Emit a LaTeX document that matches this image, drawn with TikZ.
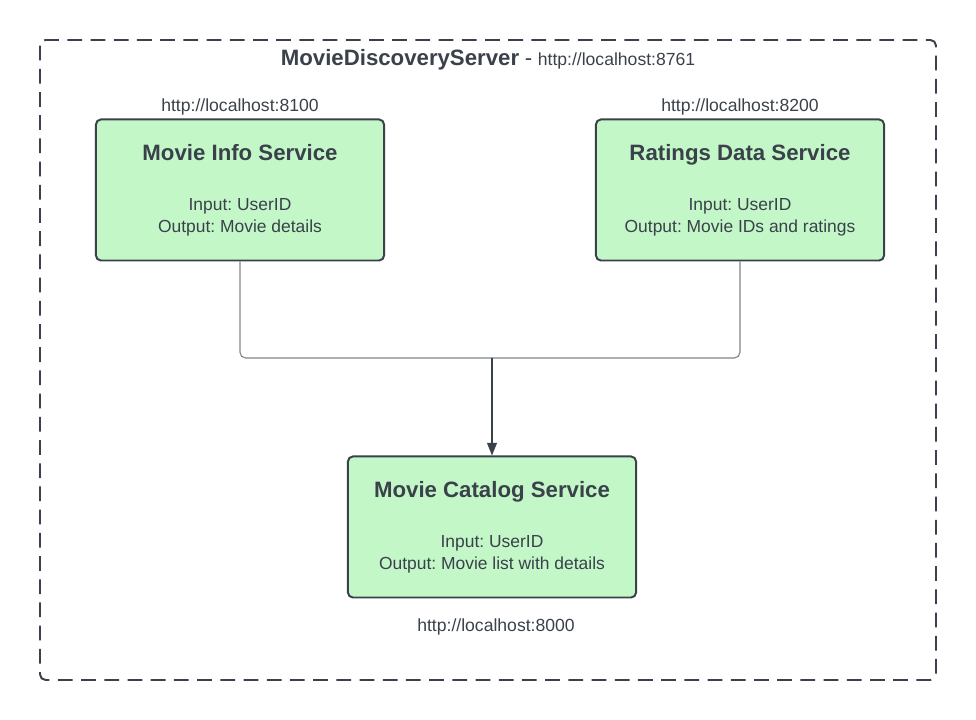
\documentclass[tikz,border=0pt]{standalone}
\usepackage{fontspec}
\setmainfont{Liberation Sans}
\usetikzlibrary{arrows.meta}
\definecolor{ink}{HTML}{3A414A}
\definecolor{boxgreen}{HTML}{C3F7C8}
\definecolor{wire}{HTML}{80858D}
\frenchspacing
\newcommand{\svcname}[1]{{\fontsize{15.8}{18}\selectfont\bfseries #1}}
\tikzset{
    service/.style={draw=ink, fill=boxgreen, line width=1.4pt, rounded corners=3.5pt,
        minimum width=7.2cm, minimum height=3.525cm, align=center, text=ink,
        font=\fontsize{12.4}{15.6}\selectfont},
    url/.style={text=ink, font=\fontsize{12.5}{14}\selectfont},
    wire/.style={draw=wire, line width=0.8pt, rounded corners=4pt}
}
\begin{document}
\begin{tikzpicture}[x=0.025cm, y=-0.025cm]
    \useasboundingbox (0,0) rectangle (976,720);

    \draw[ink, line width=1.4pt, dash pattern=on 10.5pt off 6pt, rounded corners=4pt]
        (40,40) rectangle (936,680);

    \node[text=ink] (server) at (488,60) {\svcname{MovieDiscoveryServer}\hspace{4pt}{\fontsize{15.8}{18}\selectfont -}\hspace{4pt}{\fontsize{12.5}{14}\selectfont http://localhost:8761}};

    \node[service] (info) at (240,190) {\svcname{Movie Info Service}\\[20pt]Input: UserID\\Output: Movie details};
    \node[service] (ratings) at (740,190) {\svcname{Ratings Data Service}\\[20pt]Input: UserID\\Output: Movie IDs and ratings};
    \node[service] (catalog) at (492,527) {\svcname{Movie Catalog Service}\\[20pt]Input: UserID\\Output: Movie list with details};

    \node[url] (infourl) at (240,107) {http://localhost:8100};
    \node[url] (ratingsurl) at (740,107) {http://localhost:8200};
    \node[url] (catalogurl) at (496,627) {http://localhost:8000};

    \coordinate (merge) at (492,358);
    \draw[wire] (info.south) |- (merge);
    \draw[wire] (ratings.south) |- (merge);
    \draw[draw=ink, line width=1pt, -{Triangle[length=9pt, width=7pt]}] (merge) -- (catalog.north);
\end{tikzpicture}
\end{document}
